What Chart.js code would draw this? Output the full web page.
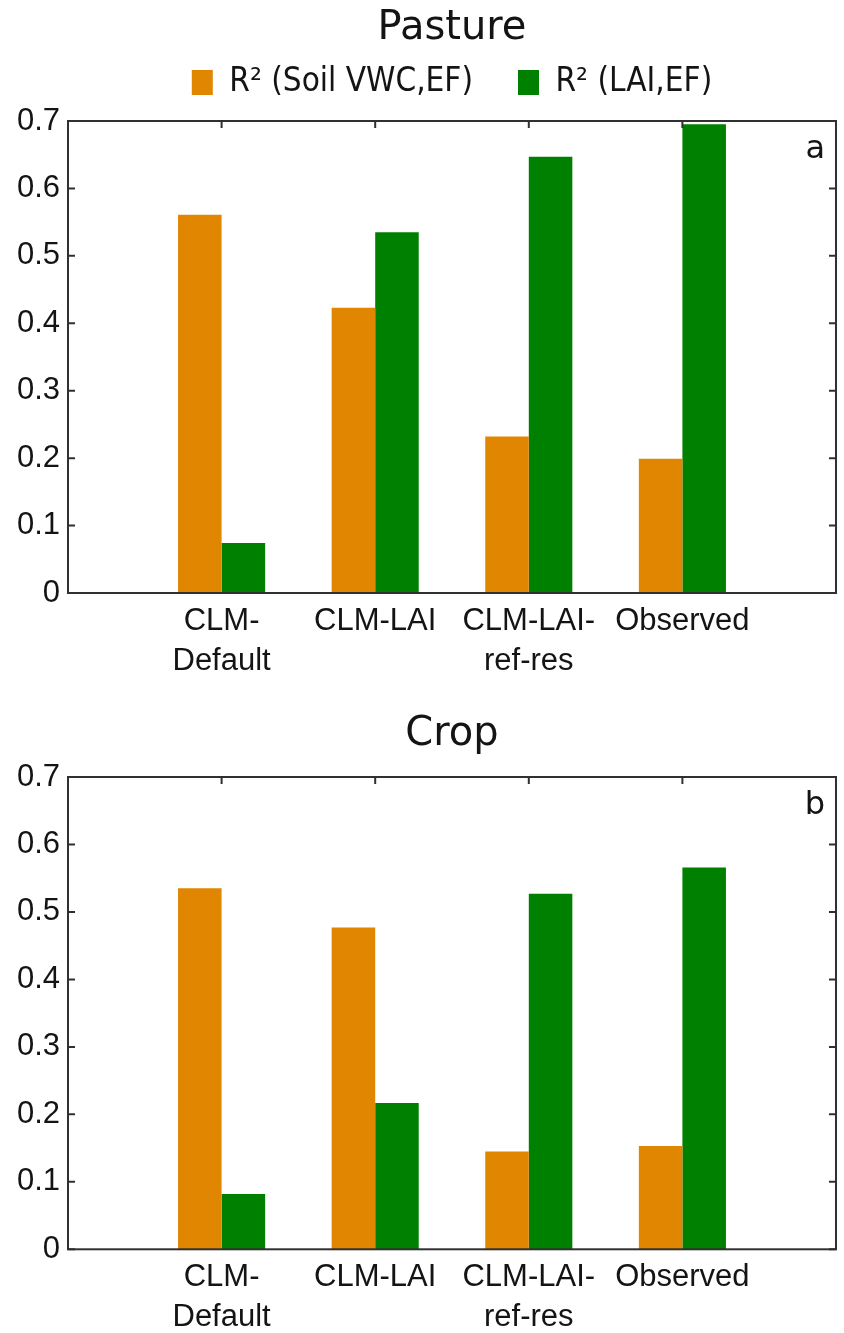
<!DOCTYPE html>
<html><head><meta charset="utf-8">
<script src="https://cdn.jsdelivr.net/npm/chart.js@4/dist/chart.umd.min.js"></script>
<style>
html,body{margin:0;padding:0;background:#fff;}
#wrap{position:relative;width:844px;height:1333px;overflow:hidden;background:#fff;}
.panel{position:absolute;left:0;}
</style></head><body>
<div id="wrap">
<div class="panel" style="top:0"><canvas id="c1" width="844" height="700"></canvas></div>
<div class="panel" style="top:700px"><canvas id="c2" width="844" height="633"></canvas></div>
</div>
<script>
// ---- data ----
const categories = ['CLM-Default', 'CLM-LAI', 'CLM-LAI-ref-res', 'Observed'];
const categoryTickLabels = [['CLM-', 'Default'], 'CLM-LAI', ['CLM-LAI-', 'ref-res'], 'Observed'];
const seriesNames = ['R\u00B2 (Soil VWC,EF)', 'R\u00B2 (LAI,EF)'];
const panelTitles = ['Pasture', 'Crop'];
const panelLetters = ['a', 'b'];
const pastureSoilVWC = [0.561, 0.423, 0.232, 0.199];
const pastureLAI = [0.074, 0.535, 0.647, 0.695];
const cropSoilVWC = [0.535, 0.477, 0.145, 0.153];
const cropLAI = [0.082, 0.217, 0.527, 0.566];
const yTickValues = [0, 0.1, 0.2, 0.3, 0.4, 0.5, 0.6, 0.7];

// ---- styles ----
const ORANGE = '#E08600';
const GREEN = '#008000';
const TEXT = '#141414';
const FRAME = '#303030';

const framePlugin = {
  id: 'frame',
  afterDatasetsDraw(chart, args, opts) {
    const {ctx, chartArea: a} = chart;
    const x = chart.scales.x, y = chart.scales.y;
    ctx.save();
    ctx.strokeStyle = FRAME;
    ctx.lineWidth = 2;
    ctx.strokeRect(a.left, a.top, a.right - a.left, a.bottom - a.top);
    ctx.beginPath();
    y.ticks.forEach(t => {
      const py = y.getPixelForValue(t.value);
      ctx.moveTo(a.left, py); ctx.lineTo(a.left + 7, py);
      ctx.moveTo(a.right, py); ctx.lineTo(a.right - 7, py);
    });
    categories.forEach((c, i) => {
      const px = x.getPixelForValue(i + 1);
      ctx.moveTo(px, a.top); ctx.lineTo(px, a.top + 7);
    });
    ctx.stroke();
    ctx.fillStyle = TEXT;
    ctx.font = '32px "DejaVu Sans", sans-serif';
    ctx.textAlign = 'right';
    ctx.textBaseline = 'alphabetic';
    ctx.fillText(opts.letter, a.right - 11, a.top + 37);
    ctx.restore();
  }
};

function makeChart(id, title, soil, lai, letter, g) {
  const labels = ['', ...categoryTickLabels, ''];
  const pad = arr => [null, ...arr, null];
  const tickFont = {family: '"Liberation Sans", Arial, sans-serif', size: 31, lineHeight: 1.3};
  return new Chart(document.getElementById(id), {
    type: 'bar',
    data: {
      labels,
      datasets: [
        {label: seriesNames[0], data: pad(soil), backgroundColor: ORANGE, borderWidth: 0,
         categoryPercentage: 0.567, barPercentage: 1.0},
        {label: seriesNames[1], data: pad(lai), backgroundColor: GREEN, borderWidth: 0,
         categoryPercentage: 0.567, barPercentage: 1.0}
      ]
    },
    options: {
      responsive: false,
      animation: false,
      events: [],
      layout: {padding: {left: 0, right: 3, top: 0, bottom: 0}},
      scales: {
        x: {
          type: 'category',
          offset: false,
          grid: {display: false, drawTicks: false},
          border: {display: false},
          ticks: {autoSkip: false, maxRotation: 0, minRotation: 0, padding: 8,
                  color: TEXT, font: tickFont},
          afterFit: s => { s.height = g.xAxisHeight; }
        },
        xTop: {
          type: 'category',
          position: 'top',
          labels,
          grid: {display: false, drawTicks: false},
          border: {display: false},
          ticks: {display: false},
          afterFit: s => { s.height = 12; }
        },
        y: {
          min: 0, max: 0.7,
          grid: {display: false, drawTicks: false},
          border: {display: false},
          afterBuildTicks: s => { s.ticks = yTickValues.map(v => ({value: v})); },
          ticks: {padding: 8, color: TEXT, font: tickFont,
                  callback: v => (v === 0 ? '0' : Number(v).toFixed(1))},
          afterFit: s => { s.width = 68; }
        }
      },
      plugins: {
        title: {
          display: true, text: title, fullSize: false, color: TEXT,
          font: {family: '"DejaVu Sans", sans-serif', size: 40, weight: 'normal', lineHeight: 1.2},
          padding: g.titlePadding
        },
        legend: {
          display: g.legend, fullSize: false, position: 'top',
          labels: {boxWidth: 21, boxHeight: 25, padding: 45, color: TEXT,
                   font: {family: '"DejaVu Sans Condensed", "DejaVu Sans", sans-serif', size: 33}}
        },
        tooltip: {enabled: false},
        frame: {letter}
      }
    },
    plugins: [framePlugin]
  });
}

makeChart('c1', panelTitles[0], pastureSoilVWC, pastureLAI, panelLetters[0],
  {titlePadding: {top: 4.5, bottom: -31.5}, legend: true, xAxisHeight: 107});
makeChart('c2', panelTitles[1], cropSoilVWC, cropLAI, panelLetters[1],
  {titlePadding: {top: 11, bottom: 6}, legend: false, xAxisHeight: 83.7});
</script>
</body></html>
